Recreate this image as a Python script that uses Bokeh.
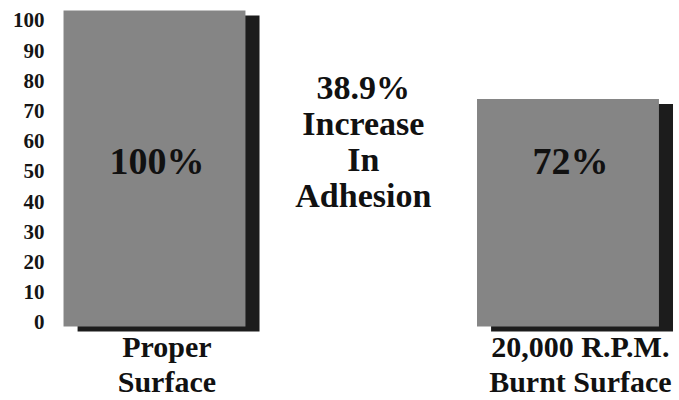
from bokeh.plotting import figure
from bokeh.models import Range1d, LinearAxis, FixedTicker, ColumnDataSource
from bokeh.core.properties import value
from bokeh.embed import file_html
from bokeh.resources import INLINE

# ---- data ----
categories = ["Proper Surface", "20,000 R.P.M. Burnt Surface"]
label_lines = [["Proper", "Surface"], ["20,000 R.P.M.", "Burnt Surface"]]
adhesion = [100, 72]
value_labels = ["100%", "72%"]
note_lines = ["38.9%", "Increase", "In", "Adhesion"]
ticks = [0, 10, 20, 30, 40, 50, 60, 70, 80, 90, 100]

# ---- style ----
FONT = value("Liberation Serif")
BAR_W = 0.44
SHADOW_DX = 0.034
SHADOW_DY = -1.6
LABEL_DX = 0.03

xs = list(range(len(categories)))

p = figure(width=679, height=400,
           x_range=Range1d(-0.2515, 1.2697),
           y_range=Range1d(-23.42, 103.16),
           output_backend="svg", toolbar_location=None,
           x_axis_location=None, y_axis_location=None,
           min_border_left=50, min_border_right=0,
           min_border_top=0, min_border_bottom=0)
p.outline_line_color = None
p.xgrid.visible = False
p.ygrid.visible = False
p.background_fill_color = "white"
p.border_fill_color = "white"

# tick axis (own range: in the reference the labels sit slightly apart from the bar scale)
p.extra_y_ranges = {"ticks": Range1d(-25.83, 106.62)}
ax = LinearAxis(y_range_name="ticks", ticker=FixedTicker(ticks=ticks))
ax.axis_line_color = None
ax.major_tick_line_color = None
ax.minor_tick_line_color = None
ax.major_tick_out = 0
ax.major_tick_in = 0
ax.major_label_standoff = 6
ax.major_label_text_font = "Liberation Serif"
ax.major_label_text_font_style = "bold"
ax.major_label_text_font_size = "21px"
ax.major_label_text_color = "#151515"
p.add_layout(ax, "left")

# shadows
shadow = ColumnDataSource(dict(
    x=[x + SHADOW_DX for x in xs],
    top=[v + SHADOW_DY for v in adhesion],
    bottom=[SHADOW_DY] * len(xs)))
p.vbar(x="x", top="top", bottom="bottom", width=BAR_W, source=shadow,
       fill_color="#1c1c1c", line_color=None)

# bars
bars = ColumnDataSource(dict(x=xs, top=adhesion))
p.vbar(x="x", top="top", bottom=0, width=BAR_W, source=bars,
       fill_color="#858585", line_color=None)

# value labels inside bars
p.text(x=[x + 0.006 for x in xs], y=[52.5] * len(xs), text=value_labels,
       text_font=FONT, text_font_style="bold", text_font_size="38px",
       text_align="center", text_baseline="middle", text_color="#111111")

# centre note
note_x = (xs[0] + xs[1]) / 2 + 0.005
note_y = [75.5 - i * 11.3 for i in range(len(note_lines))]
p.text(x=[note_x] * len(note_lines), y=note_y, text=note_lines,
       text_font=FONT, text_font_style="bold", text_font_size="34px",
       text_align="center", text_baseline="middle", text_color="#111111")

# category labels below bars
lx, ly, lt = [], [], []
for x, lines in zip(xs, label_lines):
    for j, t in enumerate(lines):
        lx.append(x + LABEL_DX)
        ly.append(-6.3 - j * 11.2)
        lt.append(t)
p.text(x=lx, y=ly, text=lt,
       text_font=FONT, text_font_style="bold", text_font_size="30px",
       text_align="center", text_baseline="middle", text_color="#111111")

open("out.html", "w").write(file_html(p, INLINE))
